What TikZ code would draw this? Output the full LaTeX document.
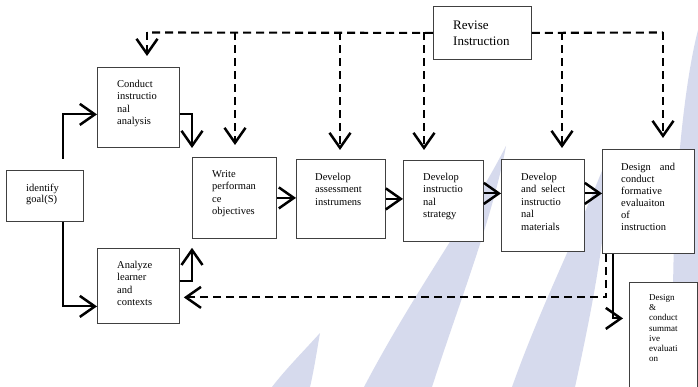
\documentclass[tikz,border=0pt]{standalone}
\usepackage{fontspec}
\setmainfont{Liberation Serif}
\usetikzlibrary{arrows.meta,calc}
\definecolor{wmc}{RGB}{214,218,237}
\begin{document}
\begin{tikzpicture}[x=1pt,y=-1pt,
  box/.style={draw=black!75, line width=0.8pt, fill=white, inner sep=0pt, anchor=north west},
  txt/.style={anchor=north west, inner sep=0pt, align=left, font=\fontsize{10.5}{12.5}\selectfont},
  arr/.style={line width=2.1pt, -{Straight Barb[length=15pt,width=21pt,line width=2.5pt]}},
  dline/.style={line width=2.1pt, dash pattern=on 8pt off 5pt},
  darr/.style={arr, dash pattern=on 8pt off 5pt},
  wm/.style={fill=wmc, draw=none}]
\useasboundingbox (0,0) rectangle (698,387);
\clip (0,0) rectangle (698,387);
\fill[white] (0,0) rectangle (698,387);
% watermark
\fill[wm] (506,146) .. controls (468,220) and (415,290) .. (364,387) -- (432,387) .. controls (460,300) and (492,220) .. (506,146) -- cycle;
\fill[wm] (610,150) .. controls (580,230) and (543,300) .. (512,387) -- (575,387) .. controls (594,300) and (607,230) .. (610,150) -- cycle;
\fill[wm] (698,30) .. controls (680,100) and (668,250) .. (675,387) -- (698,387) -- cycle;
\fill[wm] (320,333) .. controls (300,355) and (285,370) .. (272,387) -- (310,387) .. controls (314,370) and (317,350) .. (320,333) -- cycle;
% boxes
\node[box, minimum width=77pt, minimum height=51pt] (goal) at (6,170) {};
\node[box, minimum width=82pt, minimum height=80pt] (conduct) at (97,67) {};
\node[box, minimum width=82pt, minimum height=75pt] (analyze) at (97,248) {};
\node[box, minimum width=84pt, minimum height=81pt] (write) at (192,157) {};
\node[box, minimum width=89pt, minimum height=79pt] (assess) at (296,159) {};
\node[box, minimum width=80pt, minimum height=81pt] (strat) at (403,160) {};
\node[box, minimum width=83pt, minimum height=92pt] (select) at (501,159) {};
\node[box, minimum width=92pt, minimum height=104pt] (form) at (602,149) {};
\node[box, minimum width=68pt, minimum height=120pt] (summ) at (629,282) {};
\node[box, minimum width=98pt, minimum height=53pt] (revise) at (433,6) {};
% texts
\node[txt, font=\fontsize{10.5}{11}\selectfont] (goalt) at (26,184) {identify\\goal(S)};
\node[txt] (conductt) at (117,80) {Conduct\\instructio\\nal\\analysis};
\node[txt] (analyzet) at (117,261) {Analyze\\learner\\and\\contexts};
\node[txt] (writet) at (212,170) {Write\\performan\\ce\\objectives};
\node[txt] (assesst) at (315,173) {Develop\\assessment\\instrumens};
\node[txt] (stratt) at (423,173) {Develop\\instructio\\nal\\strategy};
\node[txt] (selectt) at (521,173) {Develop\\and\hspace{5pt}select\\instructio\\nal\\materials};
\node[txt, font=\fontsize{10.5}{12}\selectfont] (formt) at (621,163) {Design\hspace{9pt}and\\conduct\\formative\\evaluaiton\\of\\instruction};
\node[txt, font=\fontsize{9}{10.3}\selectfont] (summt) at (649,294) {Design\\\&\\conduct\\summat\\ive\\evaluati\\on};
\node[txt, font=\fontsize{13}{16}\selectfont] (revisetx) at (453,21) {Revise\\Instruction};
% solid connectors
\coordinate (a1) at (63,159);
\draw[arr] (a1) |- ([yshift=-7pt]conduct.west);
\draw[arr] (goal.south -| a1) |- ([yshift=-20.5pt]analyze.west);
\draw[arr, shorten >=9pt] ([yshift=-7pt]conduct.east) -| (write.north west);
\draw[arr, shorten >=9pt] ([yshift=4.5pt]analyze.east) -| (write.south west);
\draw[arr] (write.east) -- (write.east -| assess.west);
\draw[arr] (assess.east) -- (assess.east -| strat.west);
\draw[arr] ([yshift=7.5pt]strat.east) -- ([yshift=7.5pt]strat.east -| select.west);
\draw[arr] ([yshift=12pt]select.east) -- ([yshift=12pt]select.east -| form.west);
\draw[arr, shorten >=6pt] ([xshift=-35pt]form.south) |- ([yshift=24pt]summ.west);
% dashed connectors
\draw[darr, shorten >=4pt] ([xshift=-42pt]form.south) |- ([yshift=-11.5pt]analyze.east);
\coordinate (d1) at (147,32.5);
\coordinate (d2) at (235,32.5);
\coordinate (d3) at (340,32.5);
\coordinate (d4) at (424,32.5);
\coordinate (d5) at (562,32.5);
\coordinate (d6) at (663,32.5);
\draw[dline] (revise.west) -- (d1);
\draw[dline] (revise.east) -- (d6);
\draw[darr, shorten >=11pt] (d1) -- (d1 |- conduct.north);
\draw[darr, shorten >=12pt] (d2) -- (d2 |- write.north);
\draw[darr, shorten >=9pt] (d3) -- (d3 |- assess.north);
\draw[darr, shorten >=10pt] (d4) -- (d4 |- strat.north);
\draw[darr, shorten >=11pt] (d5) -- (d5 |- select.north);
\draw[darr, shorten >=11pt] (d6) -- (d6 |- form.north);
\end{tikzpicture}
\end{document}
